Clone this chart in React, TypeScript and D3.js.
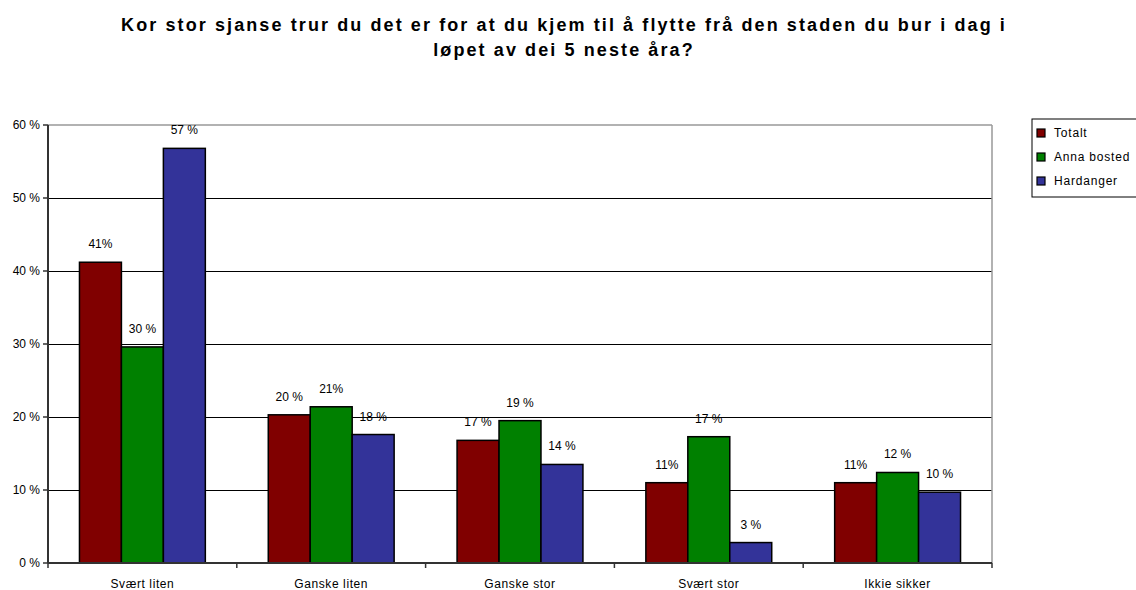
import React from 'react';
import * as d3 from 'd3';

const categories = ['Svært liten', 'Ganske liten', 'Ganske stor', 'Svært stor', 'Ikkie sikker'];
const seriesNames = ['Totalt', 'Anna bosted', 'Hardanger'];
const totalt = [41.2, 20.3, 16.8, 11.0, 11.0];
const annaBosted = [29.6, 21.4, 19.5, 17.3, 12.4];
const hardanger = [56.8, 17.6, 13.5, 2.8, 9.7];
const valueLabels = [
  ['41%', '20 %', '17 %', '11%', '11%'],
  ['30 %', '21%', '19 %', '17 %', '12 %'],
  ['57 %', '18 %', '14 %', '3 %', '10 %'],
];
const yTicks = [0, 10, 20, 30, 40, 50, 60];
const colors = ['#800000', '#008000', '#333399'];

const W = 1136;
const H = 590;
const left = 48;
const right = 992;
const top = 125;
const bottom = 563;
const font = 'Arial, "Liberation Sans", sans-serif';

export default function App() {
  const series = [totalt, annaBosted, hardanger];
  const x = d3.scaleBand().domain(categories).range([left, right]).paddingInner(0).paddingOuter(0);
  const inner = d3.scaleBand().domain(seriesNames).range([0, x.bandwidth()]).paddingInner(0).paddingOuter(0.75);
  const y = d3.scaleLinear().domain([0, 60]).range([bottom, top]);

  return (
    <svg width={W} height={H} style={{ position: 'absolute', left: 0, top: 0, background: '#fff' }}>
      <text x={564} y={31} textAnchor="middle" fontFamily={font} fontWeight="bold" fontSize={18} letterSpacing={2.1}>
        Kor stor sjanse trur du det er for at du kjem til å flytte frå den staden du bur i dag i
      </text>
      <text x={564} y={56} textAnchor="middle" fontFamily={font} fontWeight="bold" fontSize={18} letterSpacing={2.1}>
        løpet av dei 5 neste åra?
      </text>

      {/* gridlines */}
      {yTicks.filter(t => t > 0 && t < 60).map(t => (
        <line key={t} x1={left} x2={right} y1={Math.round(y(t)) + 0.5} y2={Math.round(y(t)) + 0.5} stroke="#000" strokeWidth={1} />
      ))}
      <line x1={left} x2={right} y1={top} y2={top} stroke="#999" strokeWidth={1.5} />
      <line x1={right} x2={right} y1={top} y2={bottom} stroke="#999" strokeWidth={1.5} />

      {/* bars */}
      {series.map((vals, si) =>
        vals.map((v, ci) => (
          <rect
            key={`${si}-${ci}`}
            x={(x(categories[ci]) as number) + (inner(seriesNames[si]) as number)}
            y={y(v)}
            width={inner.bandwidth()}
            height={bottom - y(v)}
            fill={colors[si]}
            stroke="#000"
            strokeWidth={1.5}
          />
        ))
      )}

      {/* value labels */}
      {series.map((vals, si) =>
        vals.map((v, ci) => (
          <text
            key={`l${si}-${ci}`}
            x={(x(categories[ci]) as number) + (inner(seriesNames[si]) as number) + inner.bandwidth() / 2}
            y={y(v) - 14}
            textAnchor="middle"
            fontFamily={font}
            fontSize={12}
            fill="#000"
          >
            {valueLabels[si][ci]}
          </text>
        ))
      )}

      {/* axes */}
      <line x1={left} x2={left} y1={top} y2={bottom} stroke="#333" strokeWidth={2} />
      <line x1={left} x2={right} y1={bottom} y2={bottom} stroke="#333" strokeWidth={2} />
      {yTicks.map(t => (
        <g key={`t${t}`}>
          <line x1={left - 5} x2={left} y1={y(t)} y2={y(t)} stroke="#333" strokeWidth={1.5} />
          <text x={left - 8} y={y(t) + 4} textAnchor="end" fontFamily={font} fontSize={12}>
            {t} %
          </text>
        </g>
      ))}
      {categories.map(c => (
        <g key={c}>
          <line x1={x(c) as number} x2={x(c) as number} y1={bottom} y2={bottom + 5} stroke="#333" strokeWidth={1.5} />
          <text x={(x(c) as number) + x.bandwidth() / 2} y={587.5} textAnchor="middle" fontFamily={font} fontSize={12} letterSpacing={0.6}>
            {c}
          </text>
        </g>
      ))}
      <line x1={right} x2={right} y1={bottom} y2={bottom + 5} stroke="#333" strokeWidth={1.5} />

      {/* legend */}
      <rect x={1032} y={119} width={110} height={78} fill="#fff" stroke="#000" strokeWidth={1} />
      {seriesNames.map((n, i) => (
        <g key={n}>
          <rect x={1037} y={129 + i * 24} width={8} height={8} fill={colors[i]} stroke="#000" strokeWidth={1.2} />
          <text x={1054} y={137 + i * 24} fontFamily={font} fontSize={12} letterSpacing={0.8}>
            {n}
          </text>
        </g>
      ))}
    </svg>
  );
}
